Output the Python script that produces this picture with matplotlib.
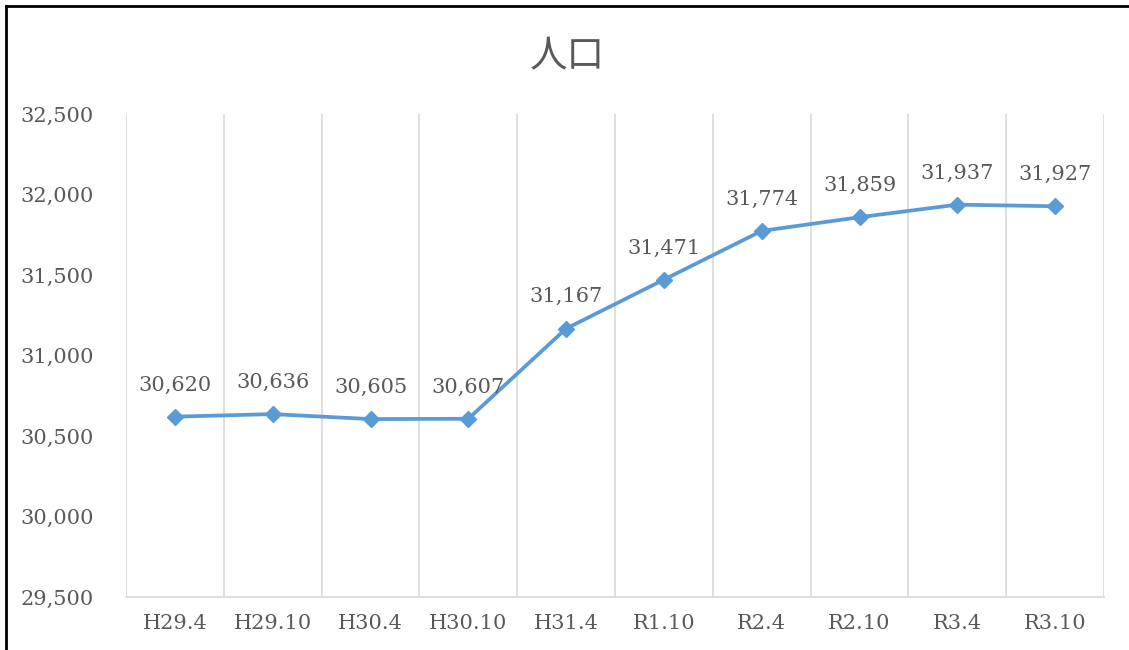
import matplotlib
matplotlib.use("Agg")
import matplotlib.pyplot as plt
from matplotlib.lines import Line2D
from matplotlib.ticker import FuncFormatter, MultipleLocator

categories = ["H29.4", "H29.10", "H30.4", "H30.10", "H31.4", "R1.10", "R2.4", "R2.10", "R3.4", "R3.10"]
population = [30620, 30636, 30605, 30607, 31167, 31471, 31774, 31859, 31937, 31927]
title = "人口"

W, H = 1129, 650
fig = plt.figure(figsize=(W / 100, H / 100), dpi=100)
ax = fig.add_axes([126 / W, 1 - 597 / H, (1104 - 126) / W, (597 - 114) / H])

text_color = "#595959"
grid_color = "#D9D9D9"
line_color = "#5B9BD5"
serif = ["DejaVu Serif"]

x = list(range(len(categories)))
ax.plot(x, population, color=line_color, lw=2.7, marker="D", ms=8.5,
        markerfacecolor=line_color, markeredgecolor=line_color, zorder=3)

for xi, v in zip(x, population):
    ax.annotate(f"{v:,}", (xi, v), xytext=(0, 16), textcoords="offset points",
                ha="center", va="bottom", fontsize=15, color=text_color,
                family=serif, zorder=4)

ax.set_xlim(-0.5, len(categories) - 0.5)
ax.set_ylim(29500, 32500)
ax.yaxis.set_major_locator(MultipleLocator(500))
ax.yaxis.set_major_formatter(FuncFormatter(lambda v, p: f"{int(v):,}"))

ax.set_xticks(x)
ax.set_xticklabels(categories)
ax.grid(False)
for b in [i - 0.5 for i in range(len(categories) + 1)]:
    ax.axvline(b, color=grid_color, lw=1.2, zorder=1)

for s in ["top", "right", "left"]:
    ax.spines[s].set_visible(False)
ax.spines["bottom"].set_color(grid_color)
ax.spines["bottom"].set_linewidth(1.2)

ax.tick_params(axis="both", which="both", length=0)
ax.tick_params(axis="x", pad=12, labelsize=15, labelcolor=text_color)
ax.tick_params(axis="y", pad=23, labelsize=15, labelcolor=text_color)
for lab in ax.get_xticklabels() + ax.get_yticklabels():
    lab.set_family(serif)

fig.text(567 / W, 1 - 57 / H, title, ha="center", va="center", fontsize=27,
         color=text_color, family=["Noto Sans CJK JP", "DejaVu Sans"])

fig.add_artist(Line2D([6 / W, 6 / W], [0, 1 - 6 / H], transform=fig.transFigure,
                      color="black", lw=2))
fig.add_artist(Line2D([6 / W, 1], [1 - 6 / H, 1 - 6 / H], transform=fig.transFigure,
                      color="black", lw=2))

fig.savefig("out.png", dpi=100, facecolor="white")
